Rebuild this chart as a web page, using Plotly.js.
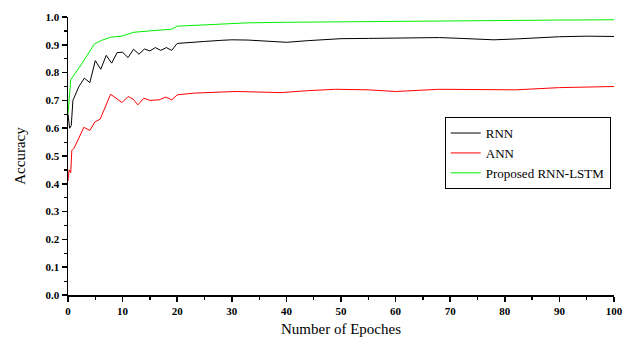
<!DOCTYPE html>
<html>
<head>
<meta charset="utf-8">
<script src="https://cdn.plot.ly/plotly-3.0.1.min.js"></script>
<style>html,body{margin:0;padding:0;background:#fff;}#chart{width:635px;height:346px;}</style>
</head>
<body>
<div id="chart"></div>
<script>
const rnnEpochs = [0, 0.3, 0.6, 0.9, 2, 3, 4, 5, 6, 7, 8, 9, 10, 11, 12, 13, 14, 15, 16, 17, 18, 19, 20, 22, 25, 28, 30, 33, 35, 38, 40, 44, 50, 55, 60, 65, 68, 72, 76, 78, 82, 86, 90, 95, 100];
const rnnAcc = [0.65, 0.60, 0.61, 0.70, 0.75, 0.78, 0.764, 0.843, 0.812, 0.862, 0.834, 0.872, 0.873, 0.854, 0.884, 0.866, 0.885, 0.878, 0.89, 0.88, 0.89, 0.88, 0.905, 0.907, 0.912, 0.916, 0.918, 0.917, 0.915, 0.91, 0.909, 0.915, 0.922, 0.923, 0.924, 0.925, 0.926, 0.923, 0.92, 0.918, 0.921, 0.926, 0.929, 0.931, 0.93];

const annEpochs = [0, 0.2, 0.5, 0.7, 1.1, 1.8, 2.9, 4, 4.9, 5.9, 7.8, 9, 9.9, 11, 11.9, 12.8, 13.9, 15, 16.7, 17.9, 19, 20, 23, 28, 31, 35, 39, 44, 49, 55, 60, 68, 76, 82, 90, 100];
const annAcc = [0.41, 0.45, 0.44, 0.52, 0.528, 0.558, 0.603, 0.592, 0.622, 0.633, 0.722, 0.705, 0.692, 0.714, 0.705, 0.684, 0.708, 0.70, 0.702, 0.712, 0.702, 0.72, 0.726, 0.73, 0.732, 0.73, 0.728, 0.735, 0.74, 0.738, 0.732, 0.74, 0.738, 0.738, 0.746, 0.75];

const lstmEpochs = [0, 0.5, 2.6, 4.8, 6, 7.8, 10, 12, 15, 19, 20, 24, 28, 33, 40, 50, 60, 70, 80, 90, 100];
const lstmAcc = [0.65, 0.774, 0.834, 0.902, 0.915, 0.927, 0.932, 0.945, 0.95, 0.956, 0.967, 0.971, 0.975, 0.979, 0.981, 0.983, 0.985, 0.987, 0.988, 0.989, 0.99];

const seriesNames = ['RNN', 'ANN', 'Proposed RNN-LSTM'];
const seriesColors = ['#000000', '#ff0000', '#00ee00'];

const serif = 'Liberation Serif, Times New Roman, serif';

const traces = [
  {x: rnnEpochs, y: rnnAcc, name: seriesNames[0], type: 'scatter', mode: 'lines', line: {color: seriesColors[0], width: 1}},
  {x: annEpochs, y: annAcc, name: seriesNames[1], type: 'scatter', mode: 'lines', line: {color: seriesColors[1], width: 1}},
  {x: lstmEpochs, y: lstmAcc, name: seriesNames[2], type: 'scatter', mode: 'lines', line: {color: seriesColors[2], width: 1}}
];

const layout = {
  width: 635, height: 346,
  margin: {l: 68, r: 21, t: 17, b: 51},
  paper_bgcolor: '#ffffff', plot_bgcolor: '#ffffff',
  font: {family: serif, color: '#000'},
  xaxis: {
    range: [0, 100], dtick: 10, tick0: 0,
    showgrid: false, zeroline: false,
    showline: true, linecolor: '#000', linewidth: 1.5,
    ticks: 'outside', ticklen: 5, tickwidth: 1.5, tickcolor: '#000',
    minor: {dtick: 5, ticks: 'outside', ticklen: 3, tickwidth: 1.2, tickcolor: '#000', showgrid: false},
    tickfont: {family: serif, size: 11, weight: 'bold', color: '#000'},
    title: {text: 'Number of Epoches', font: {family: serif, size: 15, color: '#000'}, standoff: 8}
  },
  yaxis: {
    range: [0, 1], dtick: 0.1, tick0: 0, tickformat: '.1f',
    showgrid: false, zeroline: false,
    showline: true, linecolor: '#000', linewidth: 1.5,
    ticks: 'outside', ticklen: 5, tickwidth: 1.5, tickcolor: '#000',
    minor: {dtick: 0.05, ticks: 'outside', ticklen: 3, tickwidth: 1.2, tickcolor: '#000', showgrid: false},
    tickfont: {family: serif, size: 11, weight: 'bold', color: '#000'},
    title: {text: 'Accuracy', font: {family: serif, size: 15, color: '#000'}, standoff: 16}
  },
  showlegend: true,
  legend: {
    x: 0.69, y: 0.64, xanchor: 'left', yanchor: 'top',
    bgcolor: '#ffffff', bordercolor: '#000', borderwidth: 1,
    font: {family: serif, size: 13, color: '#000'},
    itemwidth: 30, tracegroupgap: 0
  }
};

Plotly.newPlot('chart', traces, layout, {displayModeBar: false, staticPlot: true});
</script>
</body>
</html>
